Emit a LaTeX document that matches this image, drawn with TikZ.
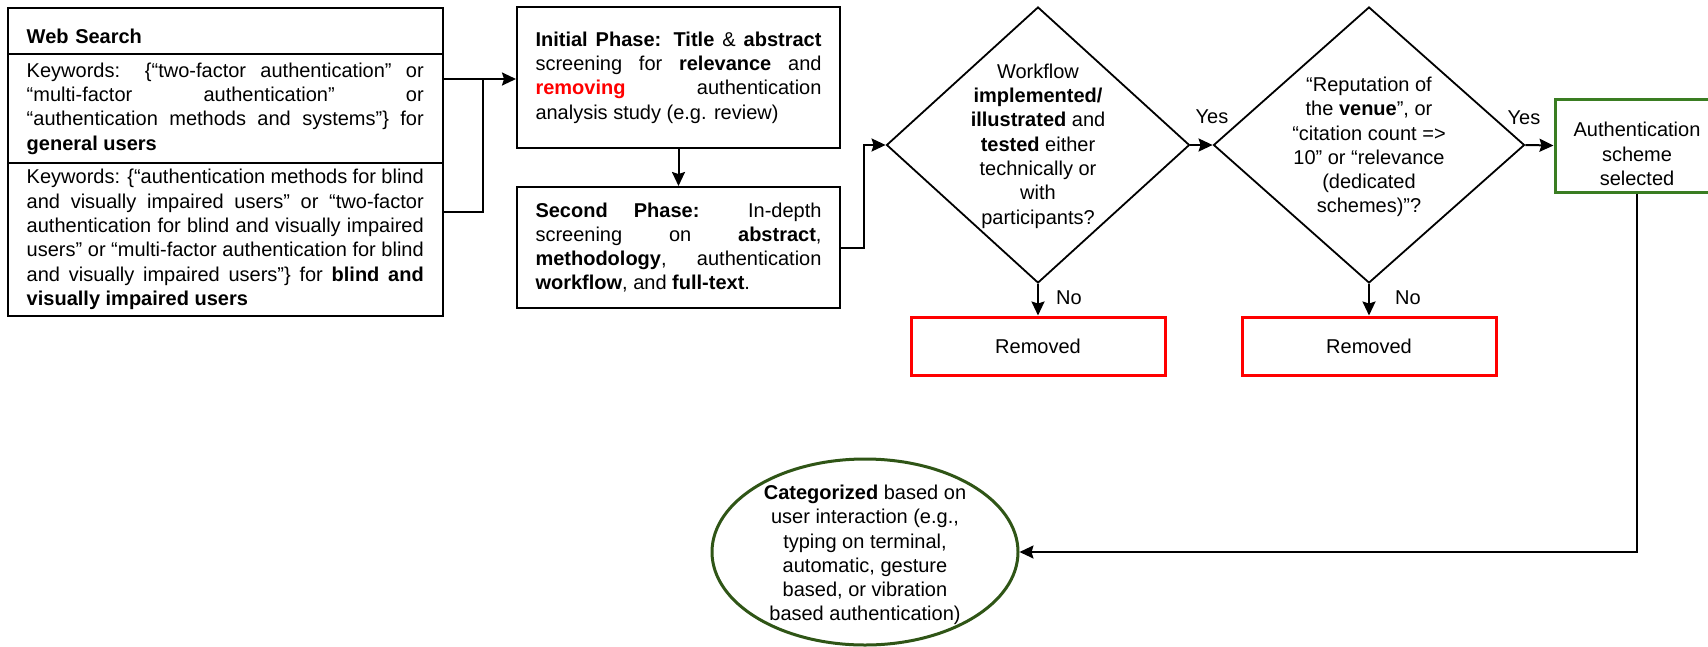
\documentclass[tikz,border=0pt]{standalone}
\usepackage{fontspec}
\setmainfont{Liberation Sans}
\usetikzlibrary{arrows.meta,shapes.geometric}
\definecolor{boxgreen}{RGB}{58,125,34}
\definecolor{ellgreen}{RGB}{47,85,22}
\hyphenpenalty=10000\relax
\tolerance=10000\relax
\begin{document}
\begin{tikzpicture}[x=1pt,y=-1pt,
  every node/.style={font=\fontsize{20}{24.3}\selectfont},
  blk/.style={draw, line width=2pt, inner sep=0pt, rectangle},
  dia/.style={draw, diamond, line width=1.8pt, inner sep=0pt},
  rem/.style={draw=red, line width=3pt, rectangle, minimum width=254pt, minimum height=58pt, inner sep=0pt},
  lin/.style={line width=2pt},
  arr/.style={line width=2pt, -{Stealth[length=14pt,width=13pt,inset=2pt]}},
  lbl/.style={inner sep=0pt},
  ]
\useasboundingbox (0,0) rectangle (1708,646);

% Web search box
\node[blk, minimum width=435.5pt, minimum height=46.5pt, text width=397pt, align=left,
      text height=26pt, text depth=0pt] (wsh) at (225.25,30.75) {\textbf{Web Search}};
\node[blk, minimum width=435.5pt, minimum height=109pt, text width=397pt, align=justify] (sec2) at (225.25,108.5)
  {Keywords: \{“two-factor authentication” or\linebreak “multi-factor authentication” or\linebreak “authentication methods and systems”\} for\linebreak \textbf{general users}};
\node[blk, minimum width=435.5pt, minimum height=153pt, text width=397pt, align=justify] (sec3) at (225.25,239.5)
  {Keywords: \{“authentication methods for blind\linebreak and visually impaired users” or “two-factor\linebreak authentication for blind and visually impaired\linebreak users” or “multi-factor authentication for blind\linebreak and visually impaired users”\} for \textbf{blind and}\linebreak \textbf{visually impaired users}};

% Phases
\node[blk, minimum width=323pt, minimum height=141pt, text width=286pt, align=justify] (init) at (678.5,77.5)
  {\textbf{Initial Phase: Title} \& \textbf{abstract}\linebreak screening for \textbf{relevance} and\linebreak \textcolor{red}{\textbf{removing}} authentication\linebreak analysis study (e.g. review)};
\node[blk, minimum width=323pt, minimum height=121pt, text width=286pt, align=justify] (second) at (678.5,247.5)
  {\textbf{Second Phase:} In-depth\linebreak screening on \textbf{abstract},\linebreak \textbf{methodology}, authentication\linebreak \textbf{workflow}, and \textbf{full-text}.};

% Diamonds
\node[dia, minimum width=303pt, minimum height=276pt] (d1) at (1038,145) {};
\node[align=center, inner sep=0pt] (d1t) at (1038,146)
  {Workflow\\\textbf{implemented/}\\\textbf{illustrated} and\\\textbf{tested} either\\technically or\\with\\participants?};
\node[dia, minimum width=311pt, minimum height=276pt] (d2) at (1369,145) {};
\node[align=center, inner sep=0pt] (d2t) at (1369,147)
  {“Reputation of\\the \textbf{venue}”, or\\“citation count =>\\10” or “relevance\\(dedicated\\schemes)”?};

% Removed boxes
\node[rem] (rem1) at (1038,346) {Removed};
\node[rem] (rem2) at (1369,346) {Removed};

% Selected
\node[draw=boxgreen, line width=3pt, rectangle, minimum width=164pt, minimum height=93pt, inner sep=0pt] (auth) at (1637,145.5) {};
\node[align=center, inner sep=0pt] (autht) at (1637,154)
  {Authentication\\scheme\\selected};

% Categorized ellipse
\node[draw=ellgreen, ellipse, line width=3pt, minimum width=306pt, minimum height=186pt, inner sep=0pt] (cat) at (865,552) {};
\node[align=center, inner sep=0pt] (catt) at (865,555)
  {\textbf{Categorized} based on\\user interaction (e.g.,\\typing on terminal,\\automatic, gesture\\based, or vibration\\based authentication)};

% Connectors
\coordinate (j) at (483,79);
\coordinate (s3out) at (443,212);
\draw[arr] (sec2.east |- j) -- (init.west |- j);
\draw[lin] (s3out) -| (j);
\draw[arr] (init.south) -- (second.north);
\draw[arr] (second.east) -- ++(23,0) |- (d1.west);
\draw[arr] (d1.east) -- node[lbl, xshift=10.5pt, yshift=28pt] {Yes} (d2.west);
\draw[arr] (d1.south) -- node[lbl, xshift=31pt, yshift=2pt] {No} (rem1.north);
\draw[arr] (d2.east) -- node[lbl, xshift=-15.5pt, yshift=28pt] {Yes} (auth.west);
\draw[arr] (d2.south) -- node[lbl, xshift=39pt, yshift=2pt] {No} (rem2.north);
\draw[arr] (auth.south) |- (cat.east);
\end{tikzpicture}
\end{document}
